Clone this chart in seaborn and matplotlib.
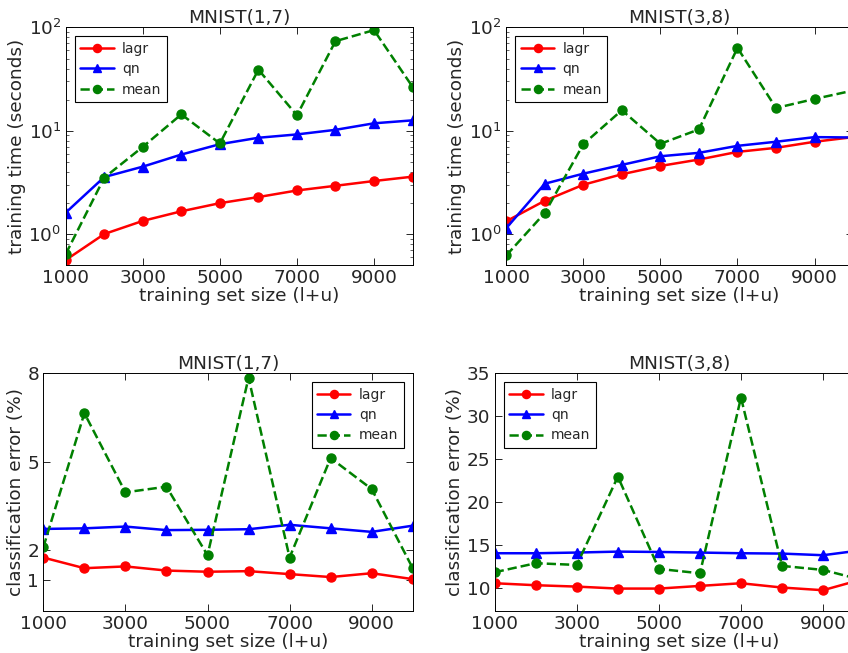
import numpy as np
import pandas as pd
import matplotlib
matplotlib.use("Agg")
import matplotlib.pyplot as plt
import seaborn as sns

sizes = [1000, 2000, 3000, 4000, 5000, 6000, 7000, 8000, 9000, 10000]
series_names = ["lagr", "qn", "mean"]

time17_lagr = [0.56, 1.00, 1.34, 1.66, 1.99, 2.28, 2.64, 2.93, 3.26, 3.59]
time17_qn = [1.61, 3.56, 4.49, 5.88, 7.41, 8.55, 9.21, 10.2, 11.8, 12.6]
time17_mean = [0.64, 3.51, 6.98, 14.4, 7.53, 39.0, 14.1, 73.6, 94.2, 26.6]

time38_lagr = [1.33, 2.10, 3.00, 3.79, 4.56, 5.26, 6.24, 6.83, 7.82, 8.67]
time38_qn = [1.14, 3.07, 3.84, 4.67, 5.66, 6.11, 7.14, 7.82, 8.67, 8.60]
time38_mean = [0.62, 1.60, 7.41, 15.8, 7.47, 10.3, 63.4, 16.6, 20.3, 24.5]

err17_lagr = [1.76, 1.40, 1.46, 1.32, 1.28, 1.30, 1.20, 1.10, 1.23, 1.03]
err17_qn = [2.73, 2.75, 2.81, 2.69, 2.70, 2.72, 2.87, 2.75, 2.63, 2.84]
err17_mean = [2.11, 6.65, 3.97, 4.16, 1.84, 7.85, 1.76, 5.13, 4.08, 1.40]

err38_lagr = [10.58, 10.35, 10.19, 9.96, 9.96, 10.27, 10.58, 10.08, 9.77, 11.1]
err38_qn = [14.07, 14.07, 14.15, 14.26, 14.22, 14.15, 14.07, 14.03, 13.84, 14.46]
err38_mean = [11.86, 12.91, 12.71, 22.98, 12.25, 11.74, 32.17, 12.60, 12.13, 10.9]

x_ticks = [1000, 3000, 5000, 7000, 9000]
err17_ticks = [1, 2, 5, 8]
err38_ticks = [10, 15, 20, 25, 30, 35]

sns.set_style("ticks", {"xtick.direction": "in", "ytick.direction": "in",
                        "axes.edgecolor": "black"})
plt.rcParams["font.family"] = ["DejaVu Sans"]
plt.rcParams["mathtext.fontset"] = "dejavusans"

fig = plt.figure(figsize=(8.48, 6.53), dpi=100)

styles = {
    "lagr": dict(color="red", marker="o", linestyle="-"),
    "qn": dict(color="blue", marker="^", linestyle="-"),
    "mean": dict(color="green", marker="o", linestyle="--"),
}

FS = 13.3

def draw(ax, data, title, ylabel, legend_loc, log=False):
    for name, vals in zip(series_names, data):
        st = styles[name]
        sns.lineplot(x=sizes, y=vals, ax=ax, label=name, color=st["color"],
                     marker=st["marker"], linestyle=st["linestyle"],
                     markersize=6.5, markeredgecolor=st["color"],
                     markeredgewidth=1, linewidth=1.8)
    if log:
        ax.set_yscale("log")
    ax.set_xlim(1000, 10000)
    ax.set_xticks(x_ticks)
    ax.set_xticklabels([str(t) for t in x_ticks])
    ax.set_title(title, fontsize=FS, pad=3)
    ax.set_xlabel("training set size (l+u)", fontsize=FS, labelpad=0)
    ax.set_ylabel(ylabel, fontsize=FS, labelpad=2)
    ax.tick_params(axis="both", which="major", labelsize=FS, direction="in",
                   top=True, right=True, length=5, width=0.7, pad=3)
    ax.tick_params(axis="both", which="minor", direction="in",
                   top=True, right=True, length=2.5, width=0.5)
    for sp in ax.spines.values():
        sp.set_visible(True)
        sp.set_color("black")
        sp.set_linewidth(0.7)
    leg = ax.legend(loc=legend_loc, fontsize=10, frameon=True, fancybox=False,
                    framealpha=1, edgecolor="black", handlelength=2.4,
                    borderpad=0.4, labelspacing=0.45, handletextpad=0.6,
                    borderaxespad=0.65, markerscale=0.9)
    leg.get_frame().set_linewidth(0.8)

ax1 = fig.add_axes([0.0775, 0.594, 0.409, 0.364])
draw(ax1, [time17_lagr, time17_qn, time17_mean], "MNIST(1,7)",
     "training time (seconds)", "upper left", log=True)
ax1.set_ylim(0.5, 100)

ax2 = fig.add_axes([0.597, 0.594, 0.409, 0.364])
draw(ax2, [time38_lagr, time38_qn, time38_mean], "MNIST(3,8)",
     "training time (seconds)", "upper left", log=True)
ax2.set_ylim(0.5, 100)

ax3 = fig.add_axes([0.0511, 0.0643, 0.4356, 0.364])
draw(ax3, [err17_lagr, err17_qn, err17_mean], "MNIST(1,7)",
     "classification error (%)", "upper right")
ax3.set_ylim(-0.05, 8)
ax3.set_yticks(err17_ticks)
ax3.set_yticklabels([str(t) for t in err17_ticks])

ax4 = fig.add_axes([0.5834, 0.0643, 0.4356, 0.364])
draw(ax4, [err38_lagr, err38_qn, err38_mean], "MNIST(3,8)",
     "classification error (%)", "upper left")
ax4.set_ylim(7.35, 35)
ax4.set_yticks(err38_ticks)
ax4.set_yticklabels([str(t) for t in err38_ticks])

fig.savefig("out.png", dpi=100, facecolor="white")
